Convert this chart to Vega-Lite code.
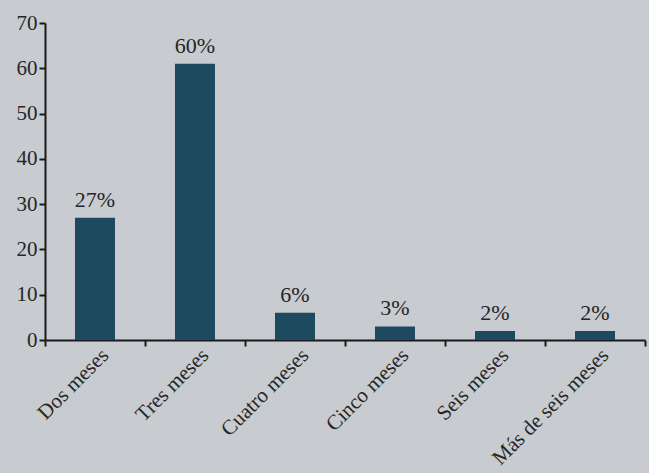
{
  "$schema": "https://vega.github.io/schema/vega-lite/v6.json",
  "autosize": {"type": "none"},
  "width": 600,
  "height": 317,
  "padding": {"left": 45, "top": 23, "right": 4, "bottom": 133},
  "background": "#c8cbd0",
  "config": {
    "view": {"stroke": null},
    "font": "Liberation Serif",
    "axis": {"domainColor": "#1a1a1a", "tickColor": "#1a1a1a", "labelColor": "#262626", "labelFont": "Liberation Serif", "labelFontSize": 19, "grid": false, "domainWidth": 2, "tickWidth": 2}
  },
  "data": {
    "values": [
      {"periodo": "Dos meses", "valor": 27, "etiqueta": "27%"},
      {"periodo": "Tres meses", "valor": 61, "etiqueta": "60%"},
      {"periodo": "Cuatro meses", "valor": 6, "etiqueta": "6%"},
      {"periodo": "Cinco meses", "valor": 3, "etiqueta": "3%"},
      {"periodo": "Seis meses", "valor": 2, "etiqueta": "2%"},
      {"periodo": "Más de seis meses", "valor": 2, "etiqueta": "2%"}
    ]
  },
  "encoding": {
    "x": {
      "field": "periodo", "type": "nominal", "sort": null,
      "scale": {"paddingInner": 0, "paddingOuter": 0},
      "axis": {"title": null, "labelAngle": -45, "labelAlign": "right", "labelBaseline": "middle", "labelPadding": 6, "labelOffset": 10, "labelFontSize": 21, "tickBand": "extent", "tickSize": 6}
    },
    "y": {
      "field": "valor", "type": "quantitative",
      "scale": {"domain": [0, 70]},
      "axis": {"title": null, "values": [0, 10, 20, 30, 40, 50, 60, 70], "tickSize": 6, "labelPadding": 2, "labelFontSize": 21}
    }
  },
  "layer": [
    {"mark": {"type": "bar", "color": "#1d4a5e", "width": {"band": 0.4}}},
    {"mark": {"type": "text", "dy": -18, "fontSize": 22, "color": "#262626", "font": "Liberation Serif"},
     "encoding": {"text": {"field": "etiqueta"}}}
  ]
}
